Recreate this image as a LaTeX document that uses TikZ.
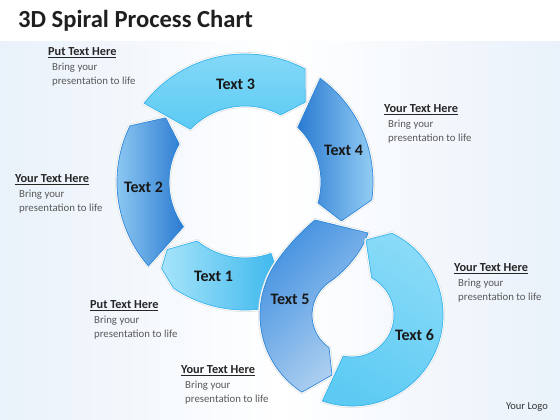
\documentclass[tikz,border=0pt]{standalone}
\usepackage{fontspec}
\setmainfont{Carlito}

\definecolor{bgblue}{HTML}{E9F1FA}
\definecolor{deepblue}{HTML}{2B7BD2}
\definecolor{midblue}{HTML}{3F8FE0}
\definecolor{paleblue}{HTML}{9AD2F6}
\definecolor{skyblue}{HTML}{5CCAF3}
\definecolor{lightsky}{HTML}{8ADBF8}
\definecolor{iceblue}{HTML}{A6E4FA}
\definecolor{cyanblue}{HTML}{34B4EC}
\definecolor{mistblue}{HTML}{B4D3F1}
\definecolor{rimblue}{HTML}{2E86D8}
\definecolor{rimcyan}{HTML}{36B2EC}
\definecolor{headgray}{HTML}{262626}
\definecolor{bodygray}{HTML}{595959}

\tikzset{
    seg/.style={preaction={draw=black!13, line width=3.8pt, line join=round},
        preaction={draw=white, line width=2.6pt, line join=round},
        draw=#1, line width=0.7pt, line join=round},
    segtext/.style={inner sep=0pt, font=\fontsize{16}{18}\selectfont\bfseries, text=black!90},
    headtext/.style={anchor=base west, inner sep=0pt, font=\fontsize{12.3}{14}\selectfont\bfseries, text=headgray},
    bodytext/.style={anchor=base west, inner sep=0pt, font=\fontsize{10.8}{12}\selectfont, text=bodygray},
}

% heading and two lines, y given from the top edge
\newcommand{\putnote}[4]{%
    \node[headtext] (#1) at (#2,416-#3) {\underline{#4}};
    \node[bodytext] (#1a) at (#2+4,401-#3) {Bring your};
    \node[bodytext] (#1b) at (#2+4,387-#3) {presentation to life};
}

\begin{document}
\begin{tikzpicture}[x=1pt,y=1pt]
    \useasboundingbox (0,0) rectangle (560,420);
    \fill[white] (0,0) rectangle (560,420);
    \shade[left color=bgblue, right color=bgblue, middle color=white] (0,0) rectangle (560,378);

    \node[anchor=base west, inner sep=0pt, font=\fontsize{24.6}{28}\selectfont\bfseries, text=black!88]
    (title) at (18,392) {3D Spiral Process Chart};

    % upper ring
    \begin{scope}[shift={(245,238)}]
    \draw[seg=rimcyan, left color=iceblue, right color=cyanblue]
    (290:128) arc[start angle=290, end angle=236, radius=128] -- (226:120) -- (221:103)
    -- (231:76) arc[start angle=231, end angle=290, radius=76] -- cycle;
    \draw[seg=rimblue, left color=paleblue, right color=deepblue]
    (221:128) arc[start angle=221, end angle=154, radius=128] -- (141:102)
    -- (150:76) arc[start angle=150, end angle=216, radius=76] -- cycle;
    \draw[seg=rimcyan, top color=lightsky, bottom color=skyblue]
    (142:128) arc[start angle=142, end angle=62, radius=128] -- (53:100)
    -- (62:76) arc[start angle=62, end angle=136, radius=76] -- cycle;
    \draw[seg=rimblue, left color=deepblue, right color=paleblue]
    (54:128) arc[start angle=54, end angle=-8, radius=128] -- (-22:104)
    -- (-16:76) arc[start angle=-16, end angle=46, radius=76] -- cycle;
    \end{scope}

    % lower ring
    \begin{scope}[shift={(352,105)}]
    \draw[seg=rimblue, top color=midblue, bottom color=mistblue, shading angle=45]
    (-37,95) -- (16,82) .. controls (10,62) and (-10,41) .. (125:40)
    arc[start angle=125, end angle=235, radius=40] -- (-20,-60) -- (237:92)
    arc[start angle=237, end angle=160, radius=92] .. controls (-80,53) and (-55,80) .. cycle;
    \draw[seg=rimcyan, top color=lightsky, bottom color=skyblue, shading angle=-30]
    (251:91) arc[start angle=251, end angle=424, radius=91] -- (14,75)
    -- (62:42) arc[start angle=62, end angle=-102, radius=42] -- cycle;
    \end{scope}

    \node[segtext] (t1) at (213.5,143.3) {Text 1};
    \node[segtext] (t2) at (143.5,232.3) {Text 2};
    \node[segtext] (t3) at (235.5,336) {Text 3};
    \node[segtext] (t4) at (343.5,269.3) {Text 4};
    \node[segtext] (t5) at (290,121) {Text 5};
    \node[segtext] (t6) at (414.5,85) {Text 6};

    \putnote{n3}{48}{52}{Put Text Here}
    \putnote{n4}{384}{109}{Your Text Here}
    \putnote{n2}{15}{179}{Your Text Here}
    \putnote{n1}{90}{305}{Put Text Here}
    \putnote{n5}{181}{370}{Your Text Here}
    \putnote{n6}{454}{268}{Your Text Here}

    \node[font=\fontsize{10.5}{12}\selectfont, text=black!80] (logo) at (527,13) {Your Logo};
\end{tikzpicture}
\end{document}
